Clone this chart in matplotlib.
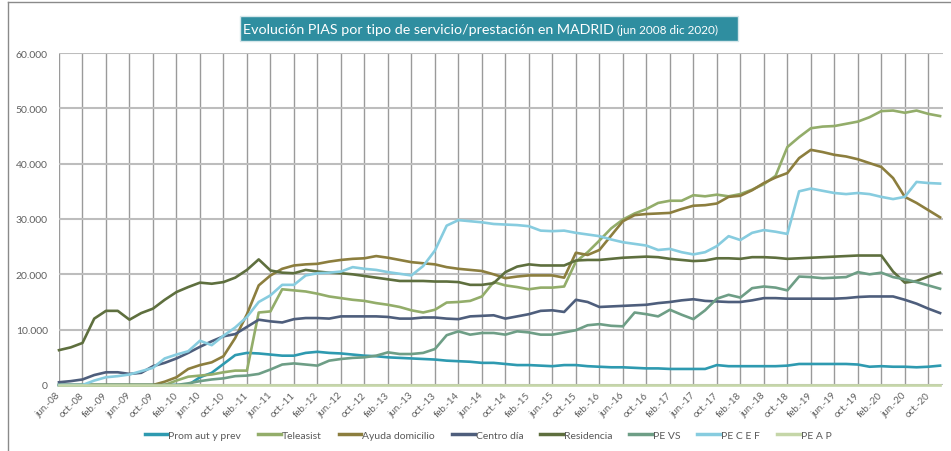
import numpy as np
import matplotlib
matplotlib.use('Agg')
from matplotlib import pyplot as plt
from matplotlib.patches import Rectangle
from matplotlib.lines import Line2D

plt.rcParams['font.family'] = ['Lato', 'DejaVu Sans']

# one value every 2 months, from jun-08 (index 0) to dic-20 (index 150), in thousands
months = list(range(0, 151, 2))

prom = [0, 0, 0, 0, 0, 0, 0, 0, 0, 0,
        0, 0, 1.4, 2.2, 3.8, 5.4, 5.8, 5.7, 5.5, 5.3,
        5.3, 5.8, 6.0, 5.8, 5.7, 5.5, 5.3, 5.2, 5.0, 4.9,
        4.8, 4.7, 4.6, 4.4, 4.3, 4.2, 4.0, 4.0, 3.8, 3.6,
        3.6, 3.5, 3.4, 3.6, 3.6, 3.4, 3.3, 3.2, 3.2, 3.1,
        3.0, 3.0, 2.9, 2.9, 2.9, 2.9, 3.6, 3.4, 3.4, 3.4,
        3.4, 3.4, 3.5, 3.8, 3.8, 3.8, 3.8, 3.8, 3.7, 3.3,
        3.4, 3.3, 3.3, 3.2, 3.3, 3.5]

teleasist = [0, 0, 0, 0, 0, 0, 0, 0, 0, 0,
             0.8, 1.5, 1.7, 1.9, 2.3, 2.6, 2.6, 13.1, 13.3, 17.3,
             17.1, 16.9, 16.5, 16.0, 15.7, 15.4, 15.2, 14.8, 14.5, 14.1,
             13.5, 13.1, 13.6, 14.9, 15.0, 15.2, 16.0, 18.6, 18.0, 17.7,
             17.3, 17.6, 17.6, 17.8, 22.3, 24.0, 26.1, 28.3, 29.9, 31.0,
             31.8, 32.9, 33.3, 33.3, 34.3, 34.1, 34.4, 34.1, 34.5, 35.3,
             36.3, 37.8, 43.0, 44.8, 46.4, 46.7, 46.8, 47.2, 47.6, 48.4,
             49.5, 49.6, 49.2, 49.6, 49.0, 48.6]

ayuda = [0, 0, 0, 0, 0, 0, 0, 0, 0, 0.6,
         1.4, 2.9, 3.6, 4.1, 5.2, 8.5, 12.8, 18.0, 19.8, 21.0,
         21.6, 21.8, 21.9, 22.3, 22.6, 22.8, 22.9, 23.3, 23.0, 22.6,
         22.2, 22.0, 21.8, 21.3, 21.0, 20.8, 20.6, 20.0, 19.3, 19.6,
         19.8, 19.8, 19.8, 19.4, 23.9, 23.5, 24.4, 27.0, 29.6, 30.7,
         30.9, 31.0, 31.1, 31.8, 32.4, 32.5, 32.8, 34.0, 34.2, 35.2,
         36.5, 37.5, 38.3, 41.0, 42.5, 42.1, 41.6, 41.3, 40.8, 40.1,
         39.4, 37.4, 34.0, 32.9, 31.6, 30.3]

centro = [0.5, 0.7, 1.0, 1.8, 2.3, 2.3, 2.0, 2.2, 3.4, 4.0,
          4.8, 5.8, 6.9, 7.9, 8.8, 9.2, 10.5, 11.8, 11.5, 11.3,
          11.9, 12.1, 12.1, 12.0, 12.4, 12.4, 12.4, 12.4, 12.3, 12.0,
          12.0, 12.2, 12.2, 12.0, 11.9, 12.4, 12.5, 12.6, 12.0, 12.4,
          12.8, 13.4, 13.5, 13.2, 15.4, 15.0, 14.1, 14.2, 14.3, 14.4,
          14.5, 14.8, 15.0, 15.3, 15.5, 15.2, 15.1, 15.0, 15.0, 15.3,
          15.7, 15.7, 15.6, 15.6, 15.6, 15.6, 15.6, 15.7, 15.9, 16.0,
          16.0, 16.0, 15.4, 14.7, 13.8, 13.0]

residencia = [6.3, 6.8, 7.6, 12.0, 13.4, 13.4, 11.8, 13.0, 13.8, 15.4,
              16.8, 17.7, 18.5, 18.3, 18.6, 19.4, 20.8, 22.7, 20.7, 20.3,
              20.2, 20.8, 20.5, 20.3, 20.2, 20.0, 19.7, 19.4, 19.1, 18.8,
              18.8, 18.8, 18.7, 18.7, 18.6, 18.1, 18.1, 18.4, 20.4, 21.4,
              21.8, 21.6, 21.6, 21.6, 22.5, 22.6, 22.6, 22.8, 23.0, 23.1,
              23.2, 23.1, 22.8, 22.6, 22.4, 22.5, 22.9, 22.9, 22.8, 23.1,
              23.1, 23.0, 22.8, 22.9, 23.0, 23.1, 23.2, 23.3, 23.4, 23.4,
              23.4, 20.5, 18.5, 18.8, 19.6, 20.3]

pe_vs = [0, 0, 0, 0, 0, 0, 0, 0, 0, 0,
         0, 0.3, 0.7, 1.0, 1.2, 1.6, 1.7, 2.0, 2.8, 3.7,
         3.9, 3.7, 3.5, 4.4, 4.7, 4.9, 5.0, 5.3, 5.9, 5.6,
         5.6, 5.8, 6.5, 9.0, 9.7, 9.1, 9.4, 9.4, 9.1, 9.7,
         9.5, 9.1, 9.1, 9.5, 9.9, 10.8, 11.0, 10.7, 10.6, 13.1,
         12.8, 12.4, 13.6, 12.7, 11.9, 13.5, 15.6, 16.3, 15.8, 17.5,
         17.8, 17.6, 17.1, 19.6, 19.5, 19.3, 19.4, 19.5, 20.4, 20.0,
         20.3, 19.5, 19.1, 18.6, 18.0, 17.4]

pe_cef = [0, 0, 0, 0.8, 1.4, 1.6, 1.9, 2.5, 3.1, 4.8,
          5.5, 6.1, 8.0, 7.2, 8.9, 10.4, 12.3, 15.0, 16.2, 18.1,
          18.1, 19.8, 20.2, 20.3, 20.5, 21.3, 21.0, 20.8, 20.4, 20.1,
          19.8, 21.5, 24.3, 28.8, 29.8, 29.6, 29.4, 29.1, 29.0, 28.9,
          28.7, 27.9, 27.8, 27.9, 27.5, 27.2, 26.9, 26.3, 25.8, 25.5,
          25.2, 24.4, 24.6, 24.0, 23.6, 24.0, 25.1, 26.9, 26.2, 27.5,
          28.0, 27.7, 27.3, 35.0, 35.5, 35.1, 34.7, 34.5, 34.7, 34.5,
          34.0, 33.6, 34.0, 36.7, 36.5, 36.4]

pe_ap = [0, 0, 0, 0, 0, 0, 0, 0, 0, 0,
         0, 0, 0, 0, 0, 0, 0, 0, 0, 0,
         0, 0, 0, 0, 0, 0, 0, 0, 0, 0,
         0, 0, 0, 0, 0, 0, 0, 0, 0, 0,
         0, 0, 0, 0, 0, 0, 0, 0, 0, 0,
         0, 0, 0, 0, 0, 0, 0, 0, 0, 0,
         0, 0, 0, 0, 0, 0, 0, 0, 0, 0,
         0, 0, 0, 0, 0, 0]

series_names = ['Prom aut y prev', 'Teleasist', 'Ayuda domicilio', 'Centro día',
                'Residencia', 'PE VS', 'PE C E F', 'PE A P']
series_values = [prom, teleasist, ayuda, centro, residencia, pe_vs, pe_cef, pe_ap]
colors = ['#2e9ab0', '#93ad6a', '#8c7e3e', '#4e5e7c',
          '#5e6f3e', '#6e9e86', '#87ccdf', '#c5d6a8']

tick_labels = ['jun.-08', 'oct.-08', 'feb.-09', 'jun.-09', 'oct.-09', 'feb.-10',
               'jun.-10', 'oct.-10', 'feb.-11', 'jun.-11', 'oct.-11', 'feb.-12',
               'jun.-12', 'oct.-12', 'feb.-13', 'jun.-13', 'oct.-13', 'feb.-14',
               'jun.-14', 'oct.-14', 'feb.-15', 'jun.-15', 'oct.-15', 'feb.-16',
               'jun.-16', 'oct.-16', 'feb.-17', 'jun.-17', 'oct.-17', 'feb.-18',
               'jun.-18', 'oct.-18', 'feb.-19', 'jun.-19', 'oct.-19', 'feb.-20',
               'jun.-20', 'oct.-20']

W, H = 951, 452
fig = plt.figure(figsize=(W / 100, H / 100), dpi=100)
ax = fig.add_axes([59 / W, 1 - 386 / H, (943 - 59) / W, (386 - 54) / H])

for name, vals, col in zip(series_names, series_values, colors):
    ax.plot(months, np.array(vals) * 1000, color=col, lw=1.9, label=name,
            clip_on=False, solid_joinstyle='round')

ax.set_xlim(0, 150.5)
ax.set_ylim(0, 60000)
ax.set_xticks(range(0, 4 * len(tick_labels), 4))
ax.set_xticklabels(tick_labels, rotation=45, ha='right', va='center',
                   rotation_mode='anchor', fontsize=7, color='#606060')
yt = list(range(0, 60001, 10000))
ax.set_yticks(yt)
ax.set_yticklabels([f'{v:,}'.replace(',', '.') for v in yt], fontsize=7.5, color='#606060')
ax.tick_params(axis='x', length=0, pad=6)
ax.tick_params(axis='y', length=0, pad=8)
ax.xaxis.grid(True, color='#9a9a9a', lw=1.0)
ax.yaxis.grid(True, color='#bdbdbd', lw=1.5)
ax.set_axisbelow(True)
for s in ax.spines.values():
    s.set_visible(False)

# title box
fig.patches.append(Rectangle((240 / W, 1 - 42 / H), 498 / W, 25 / H, transform=fig.transFigure,
                             facecolor='#2f8ea0', edgecolor='#d5e6ea', lw=1))
t1 = fig.text(243 / W, 1 - 30 / H, 'Evolución PIAS por tipo de servicio/prestación en MADRID',
              color='white', fontsize=10.3, va='center', ha='left')
r = fig.canvas.get_renderer()
bb = t1.get_window_extent(renderer=r)
fig.text(bb.x1 / W + 3 / W, 1 - 30.5 / H, '(jun 2008 dic 2020)', color='white',
         fontsize=8.5, va='center', ha='left')

# outer frame
fig.lines.append(Line2D([8 / W, 8 / W], [0, 1 - 3 / H], transform=fig.transFigure,
                        color='#8a8a8a', lw=1))
fig.lines.append(Line2D([8 / W, 1], [1 - 3 / H, 1 - 3 / H], transform=fig.transFigure,
                        color='#8a8a8a', lw=1))

leg = ax.legend(loc='center', bbox_to_anchor=(488 / W, 1 - 436 / H), bbox_transform=fig.transFigure,
                ncol=8, frameon=False, fontsize=7.5, handlelength=2.2, handletextpad=0.1,
                columnspacing=1.6)
for t in leg.get_texts():
    t.set_color('#595959')
for l in leg.get_lines():
    l.set_linewidth(2.5)

fig.savefig('out.png', dpi=100)
